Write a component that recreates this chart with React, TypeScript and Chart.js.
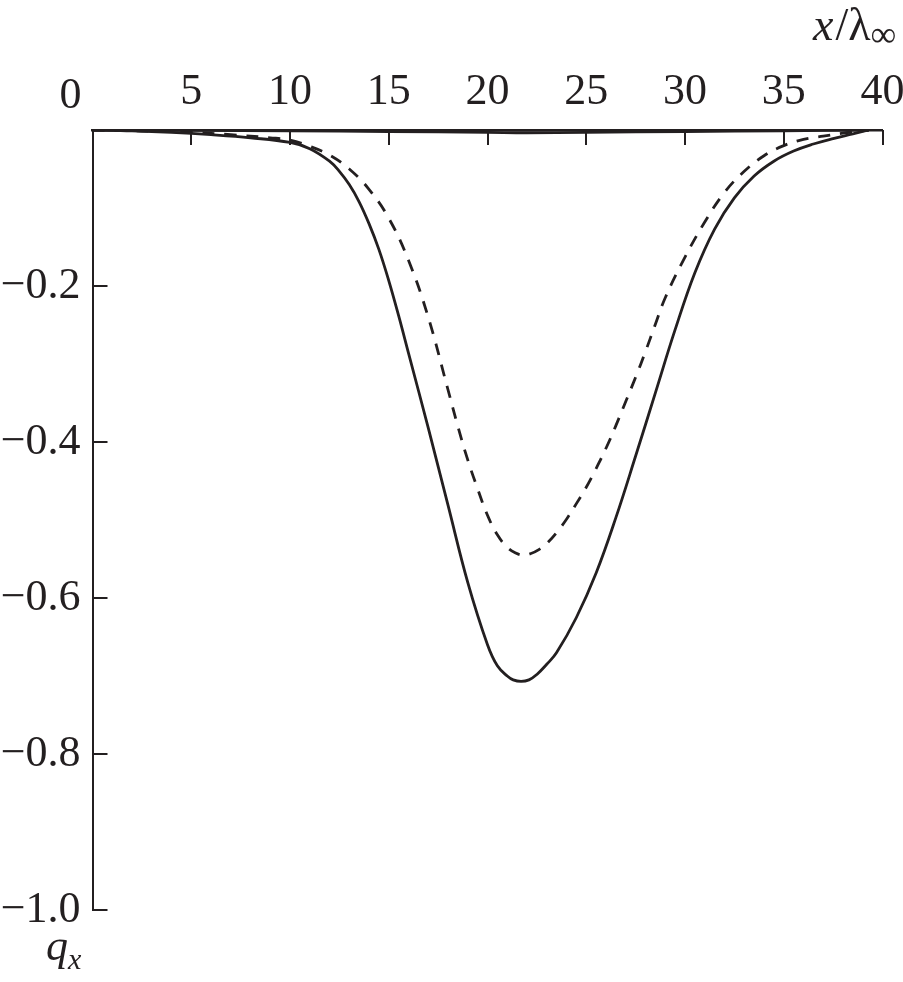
import React, { useEffect, useRef } from 'react';
import { Chart, registerables } from 'chart.js';

Chart.register(...registerables);

// x / lambda_inf tick values (top axis) and q_x tick values (left axis)
const xTickValues = [0, 5, 10, 15, 20, 25, 30, 35, 40];
const yTickValues = [-0.2, -0.4, -0.6, -0.8, -1.0];

// Solid curve
const solidX = [0, 2, 4, 6, 8, 10, 11, 12, 12.5, 13, 13.5, 14, 14.5, 15, 15.5, 16, 17, 18, 19, 20, 20.5, 21, 21.3, 21.7, 22.1, 22.5, 23, 23.5, 24.5, 25.5, 26.5, 27.5, 28.5, 29.5, 30.5, 31.5, 32.5, 33.5, 34.5, 35.5, 36.5, 37.5, 38.5, 39.3];
const solidY = [0, -0.001, -0.003, -0.006, -0.010, -0.016, -0.024, -0.040, -0.053, -0.070, -0.092, -0.120, -0.153, -0.193, -0.238, -0.286, -0.382, -0.481, -0.58, -0.66, -0.687, -0.7, -0.705, -0.707, -0.705, -0.698, -0.685, -0.67, -0.625, -0.568, -0.497, -0.418, -0.337, -0.256, -0.183, -0.127, -0.087, -0.059, -0.040, -0.027, -0.018, -0.011, -0.005, 0];

// Dashed curve
const dashedX = [0, 5, 7, 9, 10, 11, 12, 13, 14, 15, 16, 17, 18, 18.5, 19, 19.5, 20, 20.5, 21, 21.4, 21.8, 22.2, 22.6, 23, 23.5, 24, 24.5, 25, 25.5, 26, 26.5, 27, 27.5, 28, 28.5, 29, 30, 31, 32, 33, 34, 35, 36, 37, 38, 39, 39.3];
const dashedY = [0, -0.003, -0.006, -0.010, -0.013, -0.021, -0.032, -0.05, -0.076, -0.113, -0.167, -0.24, -0.333, -0.38, -0.423, -0.46, -0.494, -0.519, -0.535, -0.542, -0.545, -0.543, -0.538, -0.53, -0.516, -0.499, -0.479, -0.458, -0.434, -0.408, -0.379, -0.348, -0.317, -0.284, -0.249, -0.215, -0.163, -0.118, -0.08, -0.053, -0.033, -0.02, -0.012, -0.008, -0.004, -0.001, 0];

// Near-zero curve running along the axis
const flatX = [0, 10, 15, 20, 22, 25, 30, 35, 39.3];
const flatY = [0, -0.001, -0.002, -0.003, -0.0035, -0.003, -0.002, -0.001, 0];

const INK = '#231f20';
const FONT = '"Liberation Serif", "Times New Roman", "DejaVu Serif", serif';

const toPoints = (xs: number[], ys: number[]) => xs.map((x, i) => ({ x, y: ys[i] }));

const decorPlugin = {
  id: 'decor',
  afterDraw(chart: any) {
    const { ctx, scales } = chart;
    const xs = scales.x;
    const ys = scales.y;
    const top = ys.getPixelForValue(0);
    const left = xs.getPixelForValue(0);
    const tickLen = 15;
    ctx.save();
    ctx.strokeStyle = INK;
    ctx.lineWidth = 2;
    ctx.beginPath();
    xTickValues.forEach((v) => {
      if (v === 0) return;
      const px = Math.round(xs.getPixelForValue(v));
      ctx.moveTo(px, top);
      ctx.lineTo(px, top + tickLen);
    });
    yTickValues.forEach((v) => {
      const py = Math.round(ys.getPixelForValue(v));
      ctx.moveTo(left, py);
      ctx.lineTo(left + tickLen, py);
    });
    ctx.stroke();

    ctx.fillStyle = INK;
    // the "0" label of the x axis sits left of the corner
    ctx.font = `44px ${FONT}`;
    ctx.textAlign = 'center';
    ctx.textBaseline = 'middle';
    ctx.fillText('0', left - 22, 96);

    // axis title x/λ∞
    ctx.textBaseline = 'alphabetic';
    ctx.textAlign = 'left';
    const italic = `italic 46px ${FONT}`;
    const normal = `46px ${FONT}`;
    const sub = `36px ${FONT}`;
    let cx = 813;
    ctx.font = italic;
    ctx.fillText('x', cx, 40);
    cx += ctx.measureText('x').width + 2;
    ctx.font = normal;
    ctx.fillText('/', cx, 40);
    cx += ctx.measureText('/').width;
    ctx.fillText('λ', cx, 40);
    cx += ctx.measureText('λ').width;
    ctx.font = sub;
    ctx.fillText('∞', cx, 46);

    // axis title q_x
    ctx.font = `italic 44px ${FONT}`;
    ctx.fillText('q', 46, 960);
    const wq = ctx.measureText('q').width;
    ctx.font = `italic 30px ${FONT}`;
    ctx.fillText('x', 46 + wq, 969);
    ctx.restore();
  },
};

export default function App() {
  const canvasRef = useRef<HTMLCanvasElement | null>(null);

  useEffect(() => {
    if (!canvasRef.current) return;
    const lineBase = {
      borderColor: INK,
      borderWidth: 2.8,
      pointRadius: 0,
      fill: false,
      tension: 0.4,
    };
    const chart = new Chart(canvasRef.current, {
      type: 'line',
      data: {
        datasets: [
          { label: 'solid', data: toPoints(solidX, solidY), ...lineBase },
          { label: 'dashed', data: toPoints(dashedX, dashedY), ...lineBase, borderDash: [12, 10] },
          { label: 'near zero', data: toPoints(flatX, flatY), ...lineBase },
        ],
      },
      options: {
        animation: false,
        responsive: false,
        maintainAspectRatio: false,
        events: [],
        layout: { padding: { top: 0, right: 20.5, bottom: 72, left: 0 } },
        plugins: {
          legend: { display: false },
          tooltip: { enabled: false },
          title: { display: false },
        },
        scales: {
          x: {
            type: 'linear',
            position: 'top',
            min: 0,
            max: 40,
            afterFit: (scale: any) => {
              scale.height = 130;
              scale.paddingLeft = 0;
              scale.paddingRight = 0;
            },
            afterBuildTicks: (scale: any) => {
              scale.ticks = xTickValues.map((v) => ({ value: v }));
            },
            grid: { display: false, drawTicks: false },
            border: { display: true, color: INK, width: 2.5 },
            ticks: {
              padding: 11,
              color: INK,
              font: { family: FONT, size: 44 },
              maxRotation: 0,
              autoSkip: false,
              callback: (v: any) => (Number(v) === 0 ? '' : String(v)),
            },
          },
          y: {
            type: 'linear',
            position: 'left',
            min: -1,
            max: 0,
            afterFit: (scale: any) => {
              scale.width = 92.5;
              scale.paddingTop = 0;
              scale.paddingBottom = 0;
            },
            afterBuildTicks: (scale: any) => {
              scale.ticks = [0, ...yTickValues].map((v) => ({ value: v }));
            },
            grid: { display: false, drawTicks: false },
            border: { display: true, color: INK, width: 2 },
            ticks: {
              padding: 12,
              color: INK,
              font: { family: FONT, size: 44 },
              autoSkip: false,
              callback: (v: any) => {
                const n = Number(v);
                if (Math.abs(n) < 1e-9) return '';
                return '\u2212' + Math.abs(n).toFixed(1);
              },
            },
          },
        },
      },
      plugins: [decorPlugin],
    });
    return () => chart.destroy();
  }, []);

  return (
    <div style={{ position: 'absolute', left: 0, top: 0, width: 903, height: 982, background: '#fff' }}>
      <canvas ref={canvasRef} width={903} height={982} style={{ width: 903, height: 982, display: 'block' }} />
    </div>
  );
}
